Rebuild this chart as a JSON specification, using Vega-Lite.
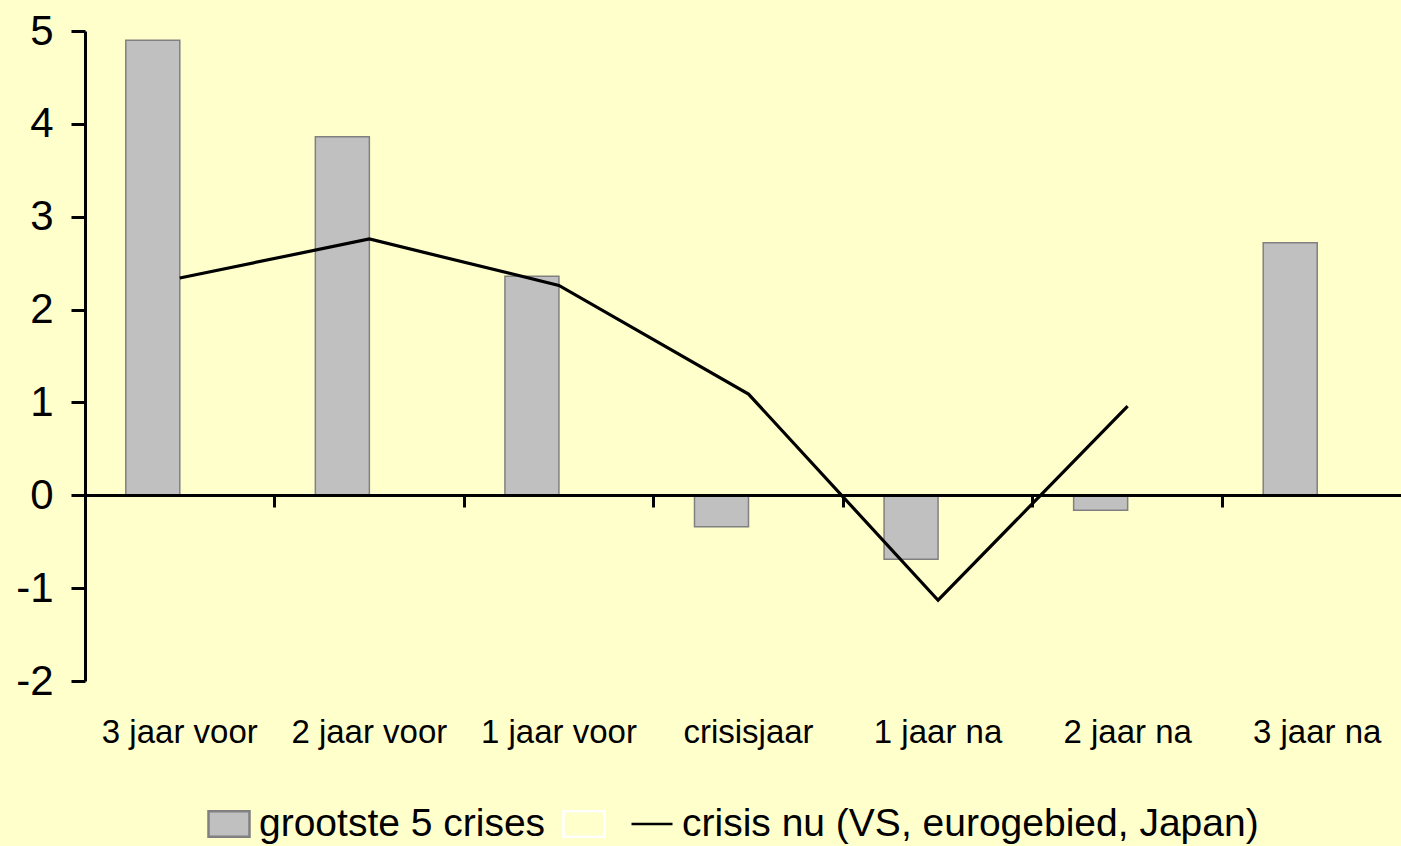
{
  "$schema": "https://vega.github.io/schema/vega-lite/v6.json",
  "width": 1316,
  "height": 650,
  "autosize": {"type": "none"},
  "padding": {"left": 85, "top": 31, "right": 0, "bottom": 165},
  "background": "#FFFFCC",
  "config": {"view": {"stroke": null}, "font": "Liberation Sans", "axis": {"grid": false}},
  "data": {
    "values": [
      {"periode": "3 jaar voor", "series": "grootste 5 crises", "waarde": 4.9},
      {"periode": "2 jaar voor", "series": "grootste 5 crises", "waarde": 3.86},
      {"periode": "1 jaar voor", "series": "grootste 5 crises", "waarde": 2.36},
      {"periode": "crisisjaar", "series": "grootste 5 crises", "waarde": -0.34},
      {"periode": "1 jaar na", "series": "grootste 5 crises", "waarde": -0.69},
      {"periode": "2 jaar na", "series": "grootste 5 crises", "waarde": -0.16},
      {"periode": "3 jaar na", "series": "grootste 5 crises", "waarde": 2.72},
      {"periode": "3 jaar voor", "series": "crisis nu (VS, eurogebied, Japan)", "waarde": 2.34},
      {"periode": "2 jaar voor", "series": "crisis nu (VS, eurogebied, Japan)", "waarde": 2.76},
      {"periode": "1 jaar voor", "series": "crisis nu (VS, eurogebied, Japan)", "waarde": 2.26},
      {"periode": "crisisjaar", "series": "crisis nu (VS, eurogebied, Japan)", "waarde": 1.09},
      {"periode": "1 jaar na", "series": "crisis nu (VS, eurogebied, Japan)", "waarde": -1.13},
      {"periode": "2 jaar na", "series": "crisis nu (VS, eurogebied, Japan)", "waarde": 0.96}
    ]
  },
  "layer": [
    {
      "transform": [{"filter": "datum.series === 'grootste 5 crises'"}],
      "mark": {"type": "bar", "fill": "#C0C0C0", "stroke": "#808080", "strokeWidth": 1.5, "width": 54, "xOffset": -27},
      "encoding": {
        "x": {
          "field": "periode", "type": "nominal",
          "sort": ["3 jaar voor", "2 jaar voor", "1 jaar voor", "crisisjaar", "1 jaar na", "2 jaar na", "3 jaar na"],
          "scale": {"range": [0, 1327], "paddingInner": 0, "paddingOuter": 0},
          "axis": {"title": null, "orient": "bottom", "labelAngle": 0, "labelFontSize": 33, "labelColor": "black", "labelPadding": 35, "domain": false, "ticks": false, "labelFont": "Liberation Sans"}
        },
        "y": {
          "field": "waarde", "type": "quantitative",
          "scale": {"domain": [-2, 5], "nice": false, "zero": false},
          "axis": {"title": null, "values": [-2, -1, 0, 1, 2, 3, 4, 5], "labelExpr": "datum.value + ''", "labelFontSize": 42, "labelColor": "black", "labelFont": "Liberation Sans", "domainColor": "black", "domainWidth": 3, "tickColor": "black", "tickWidth": 3, "tickSize": 14, "labelPadding": 18, "grid": false}
        },
        "y2": {"datum": 0}
      }
    },
    {
      "transform": [{"filter": "datum.series !== 'grootste 5 crises'"}],
      "mark": {"type": "line", "color": "black", "strokeWidth": 3.2},
      "encoding": {
        "x": {
          "field": "periode", "type": "nominal",
          "sort": ["3 jaar voor", "2 jaar voor", "1 jaar voor", "crisisjaar", "1 jaar na", "2 jaar na", "3 jaar na"],
          "axis": {"title": null, "orient": "bottom", "offset": -186, "labels": false, "domain": true, "domainColor": "black", "domainWidth": 3, "ticks": true, "tickColor": "black", "tickWidth": 3, "tickSize": 12, "bandPosition": 0, "zindex": 1}
        },
        "y": {"field": "waarde", "type": "quantitative"}
      }
    },
    {
      "mark": {"type": "point", "opacity": 0, "filled": true},
      "encoding": {
        "x": {
          "field": "periode", "type": "nominal",
          "sort": ["3 jaar voor", "2 jaar voor", "1 jaar voor", "crisisjaar", "1 jaar na", "2 jaar na", "3 jaar na"],
          "axis": null
        },
        "y": {"field": "waarde", "type": "quantitative"},
        "fill": {
          "field": "series", "type": "nominal",
          "scale": {"domain": ["grootste 5 crises", " ", "crisis nu (VS, eurogebied, Japan)"], "range": ["#C0C0C0", "#FFFFCC", "#000000"]},
          "legend": {"title": null}
        },
        "stroke": {
          "field": "series", "type": "nominal",
          "scale": {"domain": ["grootste 5 crises", " ", "crisis nu (VS, eurogebied, Japan)"], "range": ["#808080", "#FFFFFF", "#000000"]},
          "legend": {"title": null}
        },
        "shape": {
          "field": "series", "type": "nominal",
          "scale": {"domain": ["grootste 5 crises", " ", "crisis nu (VS, eurogebied, Japan)"], "range": ["M-1,-0.62H1V0.62H-1Z", "M-1,-0.62H1V0.62H-1Z", "stroke"]},
          "legend": {
            "title": null, "orient": "none", "legendX": 122, "legendY": 771, "direction": "horizontal", "columns": 3,
            "symbolSize": 1681, "symbolStrokeWidth": 2.5, "symbolOpacity": 1,
            "labelFontSize": 39, "labelFont": "Liberation Sans", "labelColor": "black", "labelOffset": 8, "labelLimit": 1000,
            "columnPadding": 12, "padding": 0,
            "labelExpr": "datum.label === ' ' ? '' : datum.label"
          }
        }
      }
    }
  ],
  "resolve": {"axis": {"x": "independent"}}
}
